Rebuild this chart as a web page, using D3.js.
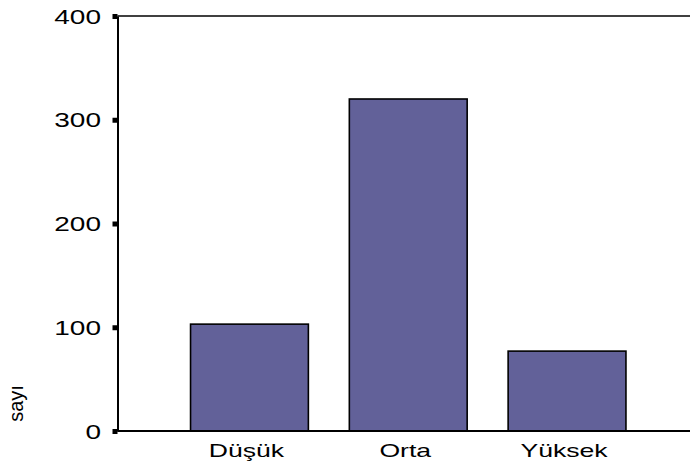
<!DOCTYPE html>
<html>
<head>
<meta charset="utf-8">
<script src="https://cdn.jsdelivr.net/npm/d3@7"></script>
<style>
	html, body { margin: 0; padding: 0; background: #fff; }
	svg { display: block; }
	text { font-family: "Liberation Sans", Arial, sans-serif; fill: #000; }
</style>
</head>
<body>
<div id="chart"></div>
<script>
/* chart data */
const categories = ["Düşük", "Orta", "Yüksek"];
const counts = [103, 320, 77];
const yTicks = [0, 100, 200, 300, 400];
const yLabel = "sayı";

const width = 690, height = 467;
const margin = { top: 16, right: 0, bottom: 36, left: 117.5 };
const stretch = 1.4; // labels in the original are drawn wide

const svg = d3.select("#chart")
	.append("svg")
	.attr("width", width)
	.attr("height", height);

/* scales */
const x = d3.scaleBand()
	.domain(categories)
	.range([margin.left, 699])
	.paddingInner(0.258)
	.paddingOuter(0.46);

const y = d3.scaleLinear()
	.domain([0, 400])
	.range([height - margin.bottom, margin.top]);

/* bars */
svg.append("g")
	.attr("class", "bars")
	.selectAll("rect")
	.data(counts)
	.join("rect")
	.attr("x", (d, i) => x(categories[i]))
	.attr("y", d => y(d))
	.attr("width", x.bandwidth())
	.attr("height", d => y(0) - y(d))
	.attr("fill", "#626199")
	.attr("stroke", "#000")
	.attr("stroke-width", 1.6);

/* frame: top line and baseline run to the right edge */
svg.append("line")
	.attr("x1", margin.left).attr("x2", width)
	.attr("y1", y(400)).attr("y2", y(400))
	.attr("stroke", "#000").attr("stroke-width", 1.6);
svg.append("line")
	.attr("x1", margin.left).attr("x2", width)
	.attr("y1", y(0)).attr("y2", y(0))
	.attr("stroke", "#000").attr("stroke-width", 2);

/* y axis */
const yAxis = svg.append("g")
	.attr("transform", `translate(${margin.left},0)`)
	.call(d3.axisLeft(y).tickValues(yTicks).tickSize(5).tickSizeOuter(0));

yAxis.select(".domain")
	.attr("stroke", "#000")
	.attr("stroke-width", 2);
yAxis.selectAll(".tick line")
	.attr("stroke", "#000")
	.attr("stroke-width", 5);
yAxis.selectAll(".tick text")
	.attr("x", -16.5 / stretch)
	.attr("dy", "0.36em")
	.attr("transform", `scale(${stretch},1)`)
	.style("font-size", "20px")
	.style("font-family", '"Liberation Sans", Arial, sans-serif');

/* x labels */
svg.append("g")
	.attr("class", "x-labels")
	.selectAll("text")
	.data(categories)
	.join("text")
	.attr("transform", d => `translate(${x(d) + x.bandwidth() / 2 - 3},456.5) scale(${stretch},1)`)
	.attr("text-anchor", "middle")
	.style("font-size", "19px")
	.text(d => d);

/* y axis title */
svg.append("text")
	.attr("transform", "translate(23,403.5) rotate(-90)")
	.attr("text-anchor", "middle")
	.style("font-size", "20px")
	.text(yLabel);
</script>
</body>
</html>
